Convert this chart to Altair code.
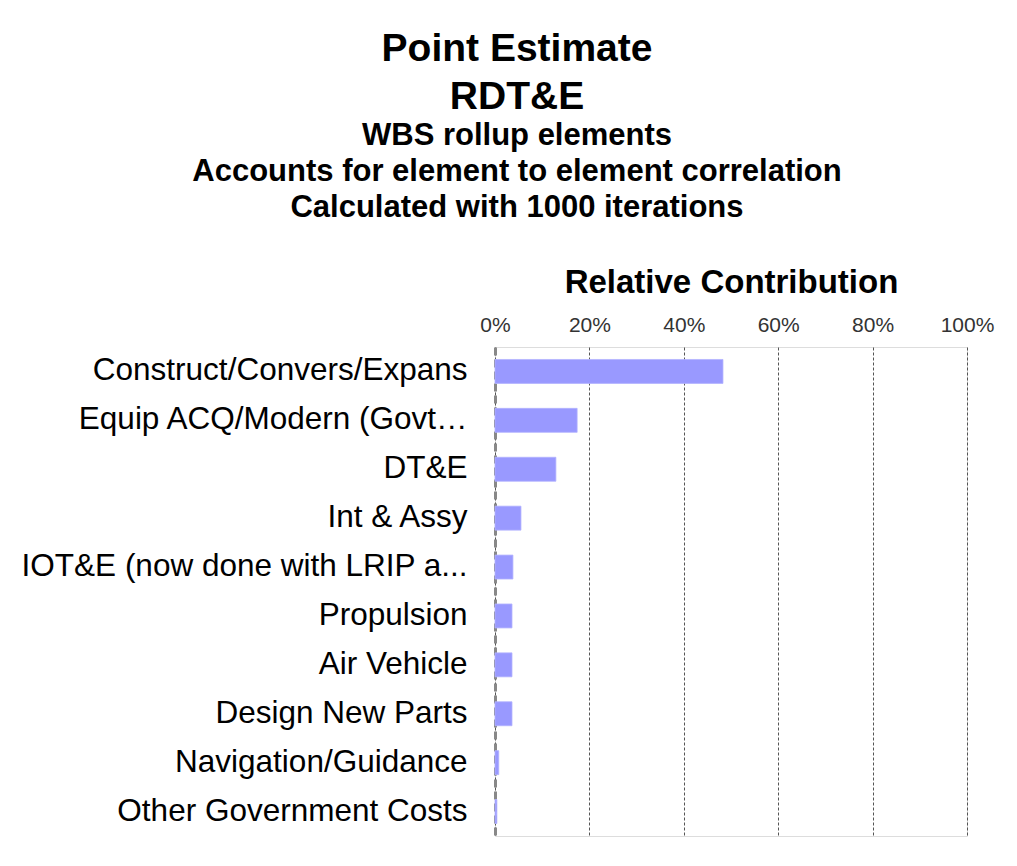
import altair as alt
import pandas as pd

categories = [
    "Construct/Convers/Expans",
    "Equip ACQ/Modern (Govt…",
    "DT&E",
    "Int & Assy",
    "IOT&E (now done with LRIP a...",
    "Propulsion",
    "Air Vehicle",
    "Design New Parts",
    "Navigation/Guidance",
    "Other Government Costs",
]
contribution = [0.483, 0.174, 0.129, 0.055, 0.038, 0.036, 0.036, 0.036, 0.008, 0.004]
x_ticks = [0, 0.2, 0.4, 0.6, 0.8, 1.0]

df = pd.DataFrame({"element": categories, "value": contribution})

FONT = "Liberation Sans"

bars = alt.Chart(df).mark_bar(
    color="#9999FF", stroke="#b3b3ff", strokeWidth=0.8
).encode(
    x=alt.X(
        "value:Q",
        scale=alt.Scale(domain=[0, 1], nice=False, zero=True),
        axis=alt.Axis(
            orient="top",
            title="Relative Contribution",
            titleFontSize=33,
            titleFontWeight="bold",
            titleFont=FONT,
            titleColor="#000000",
            titlePadding=15,
            format="%",
            values=x_ticks,
            labelFontSize=21,
            labelFont=FONT,
            labelColor="#333333",
            labelPadding=12,
            ticks=False,
            domain=False,
            grid=True,
            gridColor="#555555",
            gridDash=[3, 2],
            gridWidth=1,
            labelFlush=False,
        ),
    ),
    y=alt.Y(
        "element:N",
        sort=categories,
        scale=alt.Scale(paddingInner=0.51, paddingOuter=0.255),
        axis=alt.Axis(
            title=None,
            labelFontSize=31.5,
            labelFont=FONT,
            labelColor="#000000",
            labelPadding=28,
            labelLimit=600,
            ticks=False,
            domain=True,
            domainColor="#888888",
            domainWidth=3,
            domainDash=[8, 4],
            grid=False,
        ),
    ),
)

chart = bars.properties(
    width=472,
    height=489,
    autosize=alt.AutoSizeParams(type="none"),
    padding={"left": 487, "top": 339, "right": 42, "bottom": 14},
    title=alt.TitleParams(
        text=["Point Estimate", "RDT&E"],
        subtitle=[
            "WBS rollup elements",
            "Accounts for element to element correlation",
            "Calculated with 1000 iterations",
        ],
        fontSize=39,
        fontWeight="bold",
        font=FONT,
        color="#000000",
        lineHeight=48,
        subtitleFontSize=31,
        subtitleFontWeight="bold",
        subtitleFont=FONT,
        subtitleColor="#000000",
        subtitleLineHeight=36,
        subtitlePadding=4,
        anchor="middle",
        frame="group",
        dx=-214,
        offset=43,
    ),
).configure_view(stroke=None).configure(background="#ffffff")

chart.save("out.html", embed_options={"renderer": "svg", "actions": False})
